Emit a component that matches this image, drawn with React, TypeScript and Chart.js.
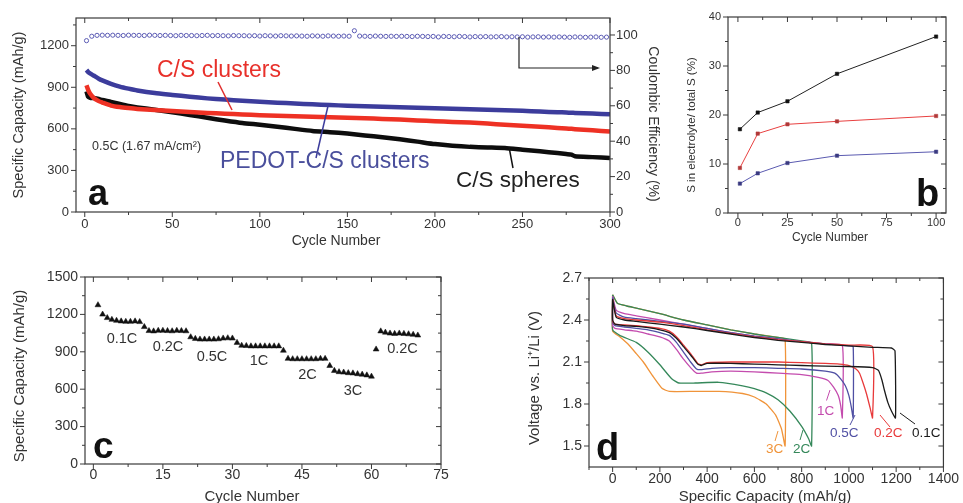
import { useEffect, useRef } from "react";
import { Chart, registerables } from "chart.js";
Chart.register(...registerables);

const FONT = "'Liberation Sans', Arial, Helvetica, sans-serif";

// ---------- Panel a ----------
const aCycles = [1, 2, 3, 5, 8, 10, 15, 20, 25, 30, 40, 50, 60, 70, 80, 90, 100, 110, 120, 130, 140, 150, 160, 170, 180, 190, 200, 210, 220, 230, 240, 250, 260, 270, 275, 278, 280, 290, 300];
const aPedot = [1025, 1010, 1000, 985, 962, 950, 925, 905, 890, 877, 858, 845, 832, 820, 811, 803, 796, 789, 783, 777, 772, 767, 763, 760, 756, 752, 748, 745, 742, 738, 734, 730, 725, 720, 718, 716, 715, 710, 705];
const aClusters = [915, 880, 855, 825, 800, 790, 768, 757, 750, 744, 736, 728, 721, 715, 709, 704, 699, 695, 691, 687, 684, 681, 677, 672, 667, 661, 655, 650, 645, 638, 630, 622, 615, 607, 603, 600, 598, 590, 580];
const aSpheres = [870, 830, 825, 822, 815, 808, 795, 780, 766, 755, 738, 720, 700, 680, 660, 642, 630, 616, 600, 585, 576, 566, 552, 540, 525, 508, 490, 478, 470, 466, 462, 450, 438, 425, 418, 414, 402, 396, 390];
const aCECycles = [1, 4, 7, 10, 13, 16, 19, 22, 25, 28, 31, 34, 37, 40, 43, 46, 49, 52, 55, 58, 61, 64, 67, 70, 73, 76, 79, 82, 85, 88, 91, 94, 97, 100, 103, 106, 109, 112, 115, 118, 121, 124, 127, 130, 133, 136, 139, 142, 145, 148, 151, 154, 157, 160, 163, 166, 169, 172, 175, 178, 181, 184, 187, 190, 193, 196, 199, 202, 205, 208, 211, 214, 217, 220, 223, 226, 229, 232, 235, 238, 241, 244, 247, 250, 253, 256, 259, 262, 265, 268, 271, 274, 277, 280, 283, 286, 289, 292, 295, 298];
const aCE = [
  96.8, 99.3, 99.8, 99.9, 99.8, 99.9, 99.8, 99.7, 99.9, 99.8,
  99.8, 99.7, 99.9, 99.8, 99.7, 99.8, 99.7, 99.6, 99.8, 99.7,
  99.7, 99.6, 99.7, 99.8, 99.6, 99.7, 99.6, 99.5, 99.7, 99.6,
  99.6, 99.5, 99.6, 99.4, 99.6, 99.5, 99.4, 99.6, 99.5, 99.4,
  99.5, 99.4, 99.3, 99.5, 99.4, 99.3, 99.5, 99.4, 99.3, 99.4,
  99.3, 102.4, 99.4, 99.3, 99.2, 99.4, 99.3, 99.2, 99.3, 99.2,
  99.3, 99.2, 99.1, 99.3, 99.2, 99.1, 99.2, 98.9, 99.2, 99.1,
  99.0, 99.2, 99.1, 98.9, 99.1, 99.0, 99.1, 98.9, 99.0, 99.1,
  98.9, 99.0, 98.9, 99.0, 98.8, 98.9, 99.0, 98.8, 98.9, 98.8,
  98.9, 98.8, 98.7, 98.9, 98.8, 98.7, 98.8, 98.9, 98.7, 98.8,
];
const aXTicks = [0, 50, 100, 150, 200, 250, 300];
const aXMinor = [25, 75, 125, 175, 225, 275];
const aYTicks = [0, 300, 600, 900, 1200];
const aYMinor = [150, 450, 750, 1050, 1350];
const aY2Ticks = [0, 20, 40, 60, 80, 100];
const aY2Minor = [10, 30, 50, 70, 90];

// ---------- Panel b ----------
const bCycles = [1, 10, 25, 50, 100];
const bSpheres = [17.1, 20.5, 22.8, 28.4, 36.0];
const bClusters = [9.2, 16.2, 18.1, 18.7, 19.8];
const bPedot = [6.0, 8.1, 10.2, 11.7, 12.5];
const bXTicks = [0, 25, 50, 75, 100];
const bXMinor = [12.5, 37.5, 62.5, 87.5];
const bYTicks = [0, 10, 20, 30, 40];
const bYMinor = [5, 15, 25, 35];

// ---------- Panel c ----------
const cCycles = [1, 2, 3, 4, 5, 6, 7, 8, 9, 10, 11, 12, 13, 14, 15, 16, 17, 18, 19, 20, 21, 22, 23, 24, 25, 26, 27, 28, 29, 30, 31, 32, 33, 34, 35, 36, 37, 38, 39, 40, 41, 42, 43, 44, 45, 46, 47, 48, 49, 50, 51, 52, 53, 54, 55, 56, 57, 58, 59, 60, 61, 62, 63, 64, 65, 66, 67, 68, 69, 70];
const cCapacity = [
  1275, 1200, 1172, 1158, 1150, 1145, 1142, 1142, 1145, 1140,
  1100, 1068, 1065, 1070, 1070, 1068, 1066, 1070, 1068, 1066,
  1018, 1005, 1000, 1000, 1000, 1000, 1002, 1008, 1010, 1008,
  973, 950, 948, 945, 945, 945, 945, 945, 945, 945,
  910, 845, 842, 842, 842, 842, 842, 842, 845, 845,
  788, 748, 738, 735, 730, 728, 722, 718, 712, 702,
  920, 1065, 1055, 1048, 1045, 1048, 1045, 1042, 1038, 1032,
];
const cRateLabels = ["0.1C", "0.2C", "0.5C", "1C", "2C", "3C", "0.2C"];
const cXTicks = [0, 15, 30, 45, 60, 75];
const cXMinor = [7.5, 22.5, 37.5, 52.5, 67.5];
const cYTicks = [0, 300, 600, 900, 1200, 1500];
const cYMinor = [150, 450, 750, 1050, 1350];

// ---------- Panel d ----------
const dRates = ["0.1C", "0.2C", "0.5C", "1C", "2C", "3C"];
const dColors = ["#1a1a1a", "#e8393a", "#4f4fa3", "#c44cae", "#35885a", "#f0943a"];
const dCharge01: number[][] = [[0, 2.55], [15, 2.42], [50, 2.40], [100, 2.39], [200, 2.37], [300, 2.35], [400, 2.325], [500, 2.30], [600, 2.275], [700, 2.255], [800, 2.24], [900, 2.225], [1000, 2.215], [1100, 2.205], [1180, 2.20], [1195, 2.18]];
const dDischarge01: number[][] = [[0, 2.40], [10, 2.37], [50, 2.36], [100, 2.355], [150, 2.345], [200, 2.33], [240, 2.31], [270, 2.27], [300, 2.21], [330, 2.15], [360, 2.085], [375, 2.075], [400, 2.09], [500, 2.09], [600, 2.085], [700, 2.08], [800, 2.075], [900, 2.07], [1000, 2.068], [1100, 2.06], [1125, 2.04], [1140, 1.97], [1150, 1.90], [1165, 1.81], [1180, 1.75], [1197, 1.70]];
const dCharge02: number[][] = [[0, 2.55], [15, 2.43], [50, 2.41], [100, 2.40], [200, 2.385], [300, 2.36], [400, 2.33], [500, 2.305], [600, 2.28], [700, 2.26], [800, 2.245], [900, 2.23], [1000, 2.22], [1100, 2.21]];
const dDischarge02: number[][] = [[0, 2.39], [10, 2.37], [50, 2.365], [100, 2.36], [150, 2.35], [200, 2.34], [240, 2.32], [270, 2.28], [300, 2.22], [330, 2.16], [360, 2.09], [375, 2.08], [400, 2.095], [500, 2.10], [600, 2.10], [700, 2.10], [800, 2.095], [900, 2.09], [960, 2.085], [1000, 2.075], [1030, 2.05], [1045, 2.02], [1060, 1.95], [1075, 1.87], [1090, 1.77], [1100, 1.70]];
const dCharge05: number[][] = [[0, 2.56], [15, 2.45], [50, 2.42], [100, 2.41], [200, 2.39], [300, 2.37], [400, 2.34], [500, 2.31], [600, 2.285], [700, 2.265], [800, 2.245], [900, 2.23], [1000, 2.215], [1018, 2.21]];
const dDischarge05: number[][] = [[0, 2.38], [10, 2.36], [50, 2.35], [100, 2.34], [150, 2.33], [200, 2.31], [240, 2.29], [270, 2.24], [300, 2.17], [330, 2.10], [355, 2.05], [375, 2.045], [420, 2.055], [500, 2.06], [600, 2.06], [700, 2.055], [800, 2.05], [900, 2.035], [940, 2.02], [965, 1.98], [985, 1.93], [1000, 1.86], [1010, 1.78], [1018, 1.70]];
const dCharge1: number[][] = [[0, 2.57], [15, 2.47], [50, 2.445], [100, 2.43], [200, 2.40], [300, 2.37], [400, 2.34], [500, 2.31], [600, 2.285], [700, 2.265], [800, 2.245], [900, 2.23], [972, 2.22]];
const dDischarge1: number[][] = [[0, 2.36], [10, 2.34], [50, 2.33], [100, 2.32], [150, 2.30], [200, 2.28], [240, 2.25], [270, 2.19], [300, 2.12], [330, 2.06], [355, 2.02], [375, 2.02], [420, 2.03], [500, 2.035], [600, 2.03], [700, 2.02], [800, 2.01], [870, 1.99], [910, 1.97], [935, 1.92], [955, 1.86], [965, 1.79], [972, 1.70]];
const dCharge2: number[][] = [[0, 2.58], [20, 2.52], [60, 2.50], [100, 2.485], [200, 2.445], [300, 2.40], [400, 2.365], [500, 2.33], [600, 2.30], [700, 2.275], [800, 2.25], [842, 2.235]];
const dDischarge2: number[][] = [[0, 2.33], [30, 2.29], [100, 2.24], [150, 2.17], [200, 2.08], [250, 1.98], [280, 1.95], [350, 1.95], [450, 1.955], [550, 1.93], [600, 1.91], [650, 1.88], [700, 1.83], [750, 1.75], [800, 1.64], [830, 1.55], [842, 1.50]];
const dCharge3: number[][] = [[0, 2.58], [20, 2.52], [60, 2.50], [100, 2.485], [200, 2.445], [300, 2.40], [400, 2.365], [500, 2.33], [600, 2.30], [700, 2.275], [730, 2.265]];
const dDischarge3: number[][] = [[0, 2.32], [30, 2.28], [64, 2.23], [100, 2.16], [130, 2.10], [170, 2.00], [210, 1.91], [240, 1.89], [350, 1.89], [450, 1.89], [550, 1.875], [600, 1.85], [650, 1.80], [690, 1.72], [715, 1.62], [730, 1.50]];
const dCharges = [dCharge01, dCharge02, dCharge05, dCharge1, dCharge2, dCharge3];
const dDischarges = [dDischarge01, dDischarge02, dDischarge05, dDischarge1, dDischarge2, dDischarge3];
const dXTicks = [0, 200, 400, 600, 800, 1000, 1200, 1400];
const dXMinor = [-100, 100, 300, 500, 700, 900, 1100, 1300];
const dYTicks = [1.5, 1.8, 2.1, 2.4, 2.7];
const dYLabels = ["1.5", "1.8", "2.1", "2.4", "2.7"];
const dYMinor = [1.65, 1.95, 2.25, 2.55];

// ---------- helpers ----------
type Txt = { t: string; x: number; y: number; size: number; color?: string; bold?: boolean; align?: CanvasTextAlign; rot?: number };
type Seg = { pts: number[][]; color: string; w?: number; arrow?: boolean };
type TickSpec = { scale: string; side: "left" | "right" | "bottom" | "top"; major: number[]; minor: number[]; dir: "in" | "out" };

function deco(ticks: TickSpec[], texts: Txt[], segs: Seg[]) {
  return {
    id: "deco",
    afterDraw(chart: any) {
      const ctx: CanvasRenderingContext2D = chart.ctx;
      const a = chart.chartArea;
      ctx.save();
      ctx.strokeStyle = "#3a3a3a";
      ctx.lineWidth = 1.2;
      ctx.strokeRect(a.left, a.top, a.right - a.left, a.bottom - a.top);
      ctx.lineWidth = 1;
      for (const t of ticks) {
        const sc = chart.scales[t.scale];
        const draw = (v: number, len: number) => {
          const p = sc.getPixelForValue(v);
          const s = t.dir === "out" ? 1 : -1;
          ctx.beginPath();
          if (t.side === "left") { ctx.moveTo(a.left, p); ctx.lineTo(a.left - s * len, p); }
          else if (t.side === "right") { ctx.moveTo(a.right, p); ctx.lineTo(a.right + s * len, p); }
          else if (t.side === "bottom") { ctx.moveTo(p, a.bottom); ctx.lineTo(p, a.bottom + s * len); }
          else { ctx.moveTo(p, a.top); ctx.lineTo(p, a.top - s * len); }
          ctx.stroke();
        };
        t.major.forEach((v) => draw(v, 5));
        t.minor.forEach((v) => draw(v, 3));
      }
      for (const s of segs) {
        ctx.strokeStyle = s.color;
        ctx.fillStyle = s.color;
        ctx.lineWidth = s.w ?? 1.5;
        ctx.beginPath();
        s.pts.forEach((p, i) => (i ? ctx.lineTo(p[0], p[1]) : ctx.moveTo(p[0], p[1])));
        ctx.stroke();
        if (s.arrow) {
          const p = s.pts[s.pts.length - 1];
          ctx.beginPath();
          ctx.moveTo(p[0] + 2, p[1]);
          ctx.lineTo(p[0] - 6, p[1] - 3);
          ctx.lineTo(p[0] - 6, p[1] + 3);
          ctx.closePath();
          ctx.fill();
        }
      }
      for (const t of texts) {
        ctx.save();
        ctx.font = `${t.bold ? "bold " : ""}${t.size}px ${FONT}`;
        ctx.fillStyle = t.color ?? "#333";
        ctx.textAlign = t.align ?? "center";
        ctx.textBaseline = t.bold ? "alphabetic" : "middle";
        ctx.translate(t.x, t.y);
        if (t.rot) ctx.rotate((t.rot * Math.PI) / 180);
        ctx.fillText(t.t, 0, 0);
        ctx.restore();
      }
      ctx.restore();
    },
  };
}

function axis(pos: string, min: number, max: number, vals: number[], labels: string[], size: number, pad: number, fit: number) {
  const horiz = pos === "bottom" || pos === "top";
  return {
    type: "linear",
    position: pos,
    min,
    max,
    bounds: "data",
    grid: { display: false, drawTicks: false, tickLength: 0 },
    border: { display: false },
    ticks: {
      font: { family: FONT, size },
      color: "#333",
      padding: pad,
      autoSkip: false,
      maxRotation: 0,
      minRotation: 0,
      callback: (v: number) => {
        const i = vals.indexOf(v);
        return i >= 0 ? labels[i] : "";
      },
    },
    afterBuildTicks: (s: any) => {
      s.ticks = vals.map((v) => ({ value: v }));
    },
    afterFit: (s: any) => {
      if (horiz) s.height = fit;
      else s.width = fit;
    },
  };
}

const str = (a: number[]) => a.map((v) => String(v));
const pts = (xs: number[], ys: number[]) => xs.map((x, i) => ({ x, y: ys[i] }));
const base = (padding: any, scales: any) => ({
  responsive: false,
  animation: false,
  devicePixelRatio: 1,
  events: [],
  layout: { padding },
  plugins: { legend: { display: false }, tooltip: { enabled: false } },
  scales,
});

function cfgA(): any {
  const line = (ys: number[], color: string) => ({
    type: "line", data: pts(aCycles, ys), borderColor: color, borderWidth: 4.5, pointRadius: 0, showLine: true, yAxisID: "y", tension: 0.2,
  });
  return {
    type: "scatter",
    data: {
      datasets: [
        line(aClusters, "#ee3124"),
        line(aSpheres, "#0d0d0d"),
        line(aPedot, "#3c3c9c"),
        {
          data: pts(aCECycles, aCE), yAxisID: "y2", pointStyle: "circle", pointRadius: 2.1, pointBorderWidth: 1,
          pointBorderColor: "#5c5cb4", pointBackgroundColor: "rgba(0,0,0,0)", showLine: false,
        },
      ],
    },
    options: base({ left: 26, top: 18, right: 318, bottom: 261 }, {
      x: axis("bottom", -5, 300, aXTicks, str(aXTicks), 13, 5, 30),
      y: axis("left", 0, 1400, aYTicks, str(aYTicks), 13, 7, 50),
      y2: axis("right", 0, 109.6, aY2Ticks, str(aY2Ticks), 13, 6, 35),
    }),
    plugins: [deco(
      [
        { scale: "x", side: "bottom", major: aXTicks, minor: aXMinor, dir: "out" },
        { scale: "x", side: "top", major: aXTicks, minor: aXMinor, dir: "in" },
        { scale: "y", side: "left", major: aYTicks, minor: aYMinor, dir: "out" },
        { scale: "y2", side: "right", major: aY2Ticks, minor: aY2Minor, dir: "out" },
      ],
      [
        { t: "Specific Capacity (mAh/g)", x: 19, y: 115, size: 14.5, rot: -90 },
        { t: "Cycle Number", x: 336, y: 241, size: 14 },
        { t: "Coulombic Efficiency (%)", x: 653, y: 124, size: 14, rot: 90 },
        { t: "C/S clusters", x: 157, y: 71, size: 23, color: "#e8302a", align: "left" },
        { t: "PEDOT-C/S clusters", x: 220, y: 162, size: 23, color: "#4a4f9c", align: "left" },
        { t: "C/S spheres", x: 456, y: 181, size: 22.5, color: "#222", align: "left" },
        { t: "0.5C (1.67 mA/cm²)", x: 92, y: 147, size: 12.5, color: "#333", align: "left" },
        { t: "a", x: 88, y: 205, size: 36, bold: true, color: "#111", align: "left" },
      ],
      [
        { pts: [[218, 82], [232, 110]], color: "#e03030" },
        { pts: [[316, 158], [328, 106]], color: "#3c3c9c" },
        { pts: [[513, 168], [509, 147]], color: "#111" },
        { pts: [[519, 37], [519, 68], [598, 68]], color: "#222", w: 1.2, arrow: true },
      ],
    )],
  };
}

function cfgB(): any {
  const ser = (ys: number[], line: string, pt: string) => ({
    type: "line", data: pts(bCycles, ys), borderColor: line, borderWidth: 1, showLine: true, tension: 0,
    pointStyle: "rect", pointRadius: 2.4, pointBackgroundColor: pt, pointBorderColor: pt, pointBorderWidth: 0.5,
  });
  return {
    type: "scatter",
    data: { datasets: [ser(bSpheres, "#222", "#111"), ser(bClusters, "#e84040", "#b03838"), ser(bPedot, "#5a5ab0", "#3a3a80")] },
    options: base({ left: 698, top: 17, right: 17, bottom: 265 }, {
      x: axis("bottom", -5, 105, bXTicks, str(bXTicks), 11, 3, 25),
      y: axis("left", 0, 40, bYTicks, str(bYTicks), 11, 7, 30),
    }),
    plugins: [deco(
      [
        { scale: "x", side: "bottom", major: bXTicks, minor: bXMinor, dir: "out" },
        { scale: "x", side: "top", major: bXTicks, minor: bXMinor, dir: "in" },
        { scale: "y", side: "left", major: bYTicks, minor: bYMinor, dir: "out" },
        { scale: "y", side: "right", major: bYTicks, minor: bYMinor, dir: "in" },
      ],
      [
        { t: "S in electrolyte/ total S (%)", x: 692, y: 125, size: 11.5, rot: -90 },
        { t: "Cycle Number", x: 830, y: 238, size: 12 },
        { t: "b", x: 916, y: 206, size: 38, bold: true, color: "#111", align: "left" },
      ],
      [],
    )],
  };
}

function cfgC(): any {
  const labelPos = [[122, 339], [168, 347], [212, 357], [259, 361], [307.5, 375], [353, 391], [402.5, 349]];
  return {
    type: "scatter",
    data: {
      datasets: [{
        data: pts(cCycles, cCapacity), pointStyle: "triangle", pointRadius: 3.4, pointBackgroundColor: "#111",
        pointBorderColor: "#111", pointBorderWidth: 0.5, showLine: false,
      }],
    },
    options: base({ left: 35, top: 277, right: 522, bottom: 14 }, {
      x: axis("bottom", -1.8, 75, cXTicks, str(cXTicks), 14, 3, 25),
      y: axis("left", 0, 1500, cYTicks, str(cYTicks), 14, 7, 50),
    }),
    plugins: [deco(
      [
        { scale: "x", side: "bottom", major: cXTicks, minor: cXMinor, dir: "out" },
        { scale: "x", side: "top", major: cXTicks, minor: cXMinor, dir: "in" },
        { scale: "y", side: "left", major: cYTicks, minor: cYMinor, dir: "out" },
        { scale: "y", side: "right", major: cYTicks, minor: cYMinor, dir: "in" },
      ],
      [
        { t: "Specific Capacity (mAh/g)", x: 20, y: 376, size: 15, rot: -90 },
        { t: "Cycle Number", x: 252, y: 497, size: 15 },
        ...cRateLabels.map((t, i) => ({ t, x: labelPos[i][0], y: labelPos[i][1], size: 14.5, color: "#333" })),
        { t: "c", x: 93, y: 458, size: 37, bold: true, color: "#111", align: "left" as CanvasTextAlign },
      ],
      [],
    )],
  };
}

function cfgD(): any {
  const ds = dRates.map((_, i) => {
    const ch = dCharges[i];
    const dis = dDischarges[i];
    const loop = [...ch, ...[...dis].reverse(), ch[0]];
    return {
      type: "line", data: loop.map((p) => ({ x: p[0], y: p[1] })), borderColor: dColors[i], borderWidth: 1.3,
      pointRadius: 0, showLine: true, tension: 0.15,
    };
  });
  const lab = [[912, 433], [874, 433], [830, 433], [817, 411], [793, 449], [766, 449]];
  const lead = [
    [[900, 413], [915, 424]], [[880, 415], [890, 427]], [[855, 415], [850, 425]],
    [[830, 390], [826.5, 400.5]], [[803, 430], [800, 440]], [[778, 431], [775, 441]],
  ];
  return {
    type: "scatter",
    data: { datasets: ds },
    options: base({ left: 544, top: 278, right: 17, bottom: 11 }, {
      x: axis("bottom", -100, 1400, dXTicks, str(dXTicks), 14, 4, 25),
      y: axis("left", 1.35, 2.7, dYTicks, dYLabels, 14, 7, 45),
    }),
    plugins: [deco(
      [
        { scale: "x", side: "bottom", major: dXTicks, minor: dXMinor, dir: "out" },
        { scale: "x", side: "top", major: dXTicks, minor: dXMinor, dir: "in" },
        { scale: "y", side: "left", major: dYTicks, minor: dYMinor, dir: "out" },
        { scale: "y", side: "right", major: dYTicks, minor: dYMinor, dir: "in" },
      ],
      [
        { t: "Voltage vs. Li⁺/Li (V)", x: 535, y: 378, size: 15, rot: -90 },
        { t: "Specific Capacity (mAh/g)", x: 765, y: 497, size: 15 },
        ...dRates.map((t, i) => ({ t, x: lab[i][0], y: lab[i][1], size: 13.5, color: dColors[i], align: "left" as CanvasTextAlign })),
        { t: "d", x: 596, y: 460, size: 38, bold: true, color: "#111", align: "left" as CanvasTextAlign },
      ],
      lead.map((p, i) => ({ pts: p, color: dColors[i], w: 1 })),
    )],
  };
}

export default function App() {
  const r1 = useRef<HTMLCanvasElement>(null);
  const r2 = useRef<HTMLCanvasElement>(null);
  const r3 = useRef<HTMLCanvasElement>(null);
  const r4 = useRef<HTMLCanvasElement>(null);
  useEffect(() => {
    const charts = [
      new Chart(r1.current!, cfgA()),
      new Chart(r2.current!, cfgB()),
      new Chart(r3.current!, cfgC()),
      new Chart(r4.current!, cfgD()),
    ];
    return () => charts.forEach((c) => c.destroy());
  }, []);
  const cs = { position: "absolute" as const, left: 0, top: 0, width: 963, height: 503 };
  return (
    <div style={{ position: "fixed", left: 0, top: 0, width: 963, height: 503, background: "#fff" }}>
      <canvas ref={r1} width={963} height={503} style={cs} />
      <canvas ref={r2} width={963} height={503} style={cs} />
      <canvas ref={r3} width={963} height={503} style={cs} />
      <canvas ref={r4} width={963} height={503} style={cs} />
    </div>
  );
}
